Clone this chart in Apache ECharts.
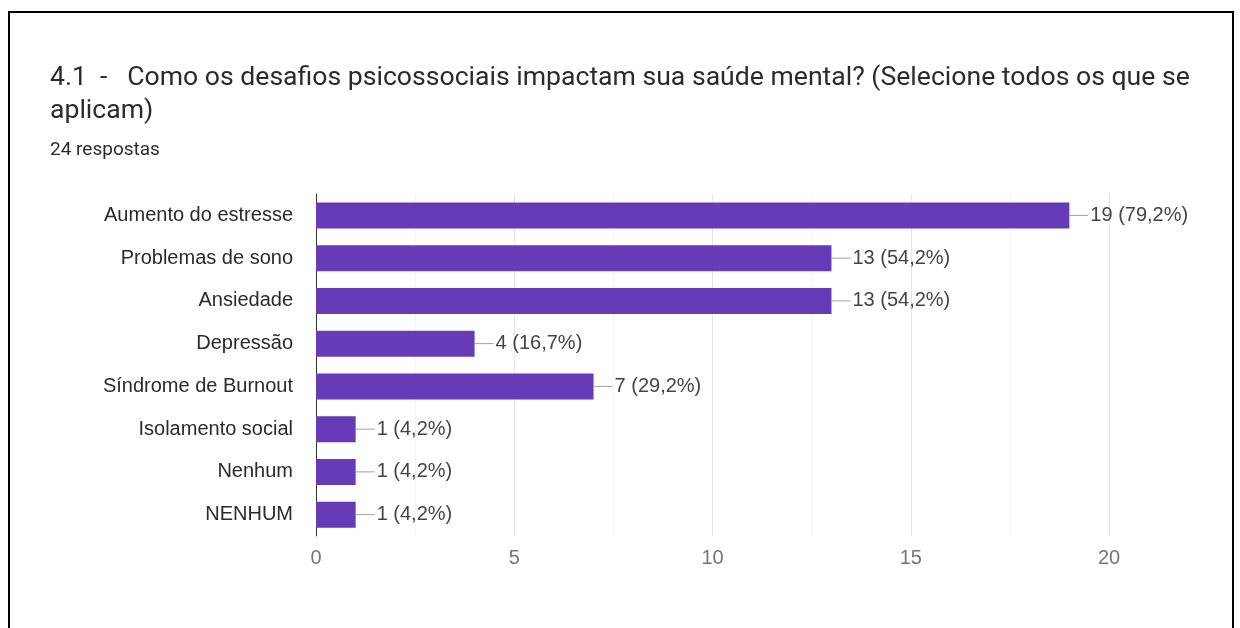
<!DOCTYPE html>
<html>
<head>
<meta charset="utf-8">
<script src="https://cdn.jsdelivr.net/npm/echarts@6/dist/echarts.min.js"></script>
<style>
  html, body { margin: 0; padding: 0; background: #fff; }
  #chart { width: 1240px; height: 628px; }
</style>
</head>
<body>
<div id="chart"></div>
<script>
// Survey question and response count
const questionTitle = '4.1  -   Como os desafios psicossociais impactam sua saúde mental? (Selecione todos os que se\naplicam)';
const responseCount = '24 respostas';

// Answer options, counts and their share of respondents
const categories = ['Aumento do estresse', 'Problemas de sono', 'Ansiedade', 'Depressão', 'Síndrome de Burnout', 'Isolamento social', 'Nenhum', 'NENHUM'];
const counts = [19, 13, 13, 4, 7, 1, 1, 1];
const percents = ['79,2%', '54,2%', '54,2%', '16,7%', '29,2%', '4,2%', '4,2%', '4,2%'];

// Horizontal axis ticks
const xTicks = [0, 5, 10, 15, 20];

const chart = echarts.init(document.getElementById('chart'), null, { renderer: 'canvas' });

const labelFont = '"Liberation Sans", Arial, sans-serif';

chart.setOption({
  backgroundColor: '#ffffff',
  animation: false,
  title: {
    text: questionTitle,
    subtext: responseCount,
    left: 45,
    top: 57,
    itemGap: 13,
    textStyle: { fontFamily: 'Roboto, sans-serif', fontSize: 26.6, fontWeight: 'normal', color: '#2b2b2b', lineHeight: 33 },
    subtextStyle: { fontFamily: 'Roboto, sans-serif', fontSize: 19, color: '#2b2b2b' }
  },
  graphic: [{
    type: 'rect',
    shape: { x: 9, y: 12, width: 1224, height: 640 },
    style: { fill: 'none', stroke: '#000', lineWidth: 2 },
    silent: true
  }],
  grid: { left: 316, right: 131, top: 194, height: 342, containLabel: false },
  xAxis: {
    type: 'value',
    min: xTicks[0],
    max: xTicks[xTicks.length - 1],
    interval: 5,
    axisLine: { show: false },
    axisTick: { show: false },
    axisLabel: { color: '#757575', fontFamily: labelFont, fontSize: 20, margin: 12 },
    splitLine: { lineStyle: { color: '#e6e6e6', width: 1 } },
    minorTick: { show: false, splitNumber: 2 },
    minorSplitLine: { show: true, lineStyle: { color: '#f4f4f4', width: 1 } }
  },
  yAxis: {
    type: 'category',
    data: categories,
    inverse: true,
    axisLine: { show: true, lineStyle: { color: '#333', width: 1 } },
    axisTick: { show: false },
    axisLabel: { color: '#2a2a2a', fontFamily: labelFont, fontSize: 20, margin: 23 },
    splitLine: { show: false }
  },
  series: [{
    type: 'bar',
    data: counts,
    barWidth: 26,
    itemStyle: { color: '#673ab7' },
    label: {
      show: true,
      position: 'right',
      distance: 0,
      formatter: p => '{ln|}{v|' + p.value + ' (' + percents[p.dataIndex] + ')}',
      rich: {
        ln: { width: 19, height: 1, backgroundColor: '#9e9e9e' },
        v: { color: '#444', fontFamily: labelFont, fontSize: 20, padding: [0, 0, 0, 2] }
      }
    }
  }]
});
</script>
</body>
</html>
